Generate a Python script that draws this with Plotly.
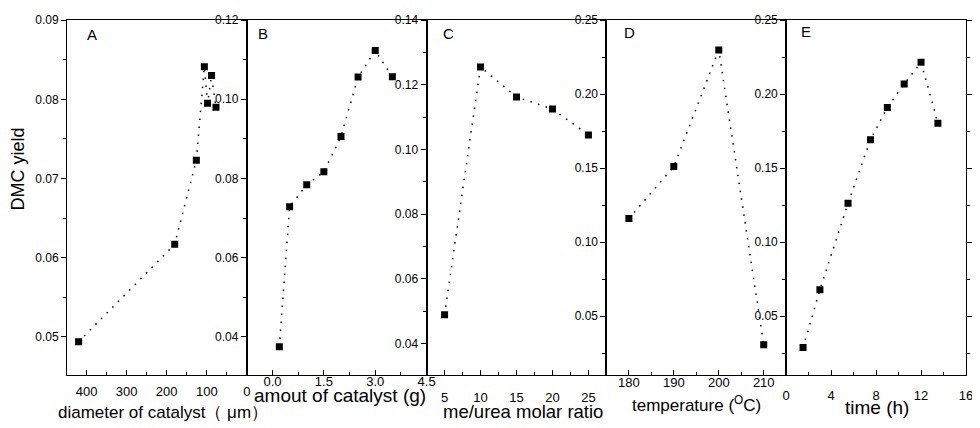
import plotly.graph_objects as go
from plotly.subplots import make_subplots

# panel A: particle size
a_diam = [420, 180, 126, 106, 98, 88, 77]
a_yield = [0.0494, 0.0617, 0.0723, 0.0841, 0.0795, 0.0830, 0.0790]
# panel B: catalyst amount
b_amount = [0.2, 0.5, 1.0, 1.5, 2.0, 2.5, 3.0, 3.5]
b_yield = [0.0375, 0.0729, 0.0784, 0.0817, 0.0906, 0.1056, 0.1123, 0.1057]
# panel C: methanol/urea ratio
c_ratio = [5, 10, 15, 20, 25]
c_yield = [0.0489, 0.1255, 0.1162, 0.1125, 0.1045]
# panel D: temperature
d_temp = [180, 190, 200, 210]
d_yield = [0.1159, 0.1511, 0.2298, 0.0308]
# panel E: time
e_time = [1.5, 3, 5.5, 7.5, 9, 10.5, 12, 13.5]
e_yield = [0.0288, 0.0679, 0.1262, 0.1692, 0.1909, 0.2068, 0.2214, 0.1803]

panel_letters = ["A", "B", "C", "D", "E"]
x_titles = ["diameter of catalyst（ μm）", "amout of catalyst (g)", "me/urea molar ratio",
            "temperature (<sup>O</sup>C)", "time (h)"]

FONT = "Arial, Liberation Sans, sans-serif"
# page body has an 8px margin, so the figure is drawn 8px in from the corner
OFF = 8
W, H = 980 - OFF, 428 - OFF
L, R, T, B = 67 - OFF, 6, 13 - OFF, 53
PW, PH = W - L - R, H - T - B

fig = make_subplots(rows=1, cols=5, horizontal_spacing=0)

series = [(a_diam, a_yield), (b_amount, b_yield), (c_ratio, c_yield),
          (d_temp, d_yield), (e_time, e_yield)]
for i, (xs, ys) in enumerate(series):
    fig.add_trace(go.Scatter(
        x=xs, y=ys, mode="lines+markers",
        line=dict(color="black", width=1.5, dash="1.5px,6.5px"),
        marker=dict(symbol="square", size=7, color="black"),
        showlegend=False), row=1, col=i + 1)

x_ranges = [[449, 0], [-0.75, 4.5], [2.5, 27.5], [175, 215], [0, 16]]
x_dticks = [100, 1.5, 5, 10, 4]
x_fmt = ["d", ".1f", "d", "d", "d"]
x_standoff = [4, -6, 10, -5, 8]
y_ranges = [[0.0452, 0.09001], [0.0304, 0.12001], [0.0303, 0.14001], [0.0103, 0.25001], [0.0103, 0.25001]]
y_dticks = [0.01, 0.02, 0.02, 0.05, 0.05]

for i in range(5):
    fig.update_xaxes(
        range=x_ranges[i], dtick=x_dticks[i], tick0=0, tickformat=x_fmt[i],
        showgrid=False, zeroline=False, showline=True, linecolor="black", linewidth=1,
        mirror=True, ticks="inside", ticklen=5, tickcolor="black",
        minor=dict(ticks="inside", ticklen=3, tickcolor="black", dtick=x_dticks[i] / 2),
        tickfont=dict(family=FONT, size=13, color="black"),
        ticklabelstandoff=x_standoff[i], ticklabeloverflow="allow",
        row=1, col=i + 1)
    fig.update_yaxes(
        range=y_ranges[i], dtick=y_dticks[i], tick0=0, tickformat=".2f",
        showgrid=False, zeroline=False, showline=True, linecolor="black", linewidth=1,
        mirror="allticks" if i == 4 else True,
        ticks="outside", ticklen=5, tickcolor="black",
        minor=dict(ticks="outside", ticklen=3, tickcolor="black", dtick=y_dticks[i] / 2),
        tickfont=dict(family=FONT, size=12, color="black"),
        ticklabeloverflow="allow",
        row=1, col=i + 1)

# positions below are read in screen pixels
def px_x(x):
    return (x - OFF - L) / PW

def px_y(y):
    return (H - B - (y - OFF)) / PH

def label(text, x, y, size, angle=0):
    return dict(text=text, x=px_x(x), y=px_y(y), xref="paper", yref="paper",
                xanchor="center", yanchor="middle", textangle=angle, showarrow=False,
                font=dict(family=FONT, size=size, color="black"))

ann = []
letter_px = [(92, 28), (265, 27), (452, 27), (635, 26), (813, 25)]
for lt, (lx, ly) in zip(panel_letters, letter_px):
    ann.append(label(lt, lx, ly, 15))

title_px = [(164, 413, 17), (342, 396, 19), (527, 412, 18.5), (702, 405, 17), (884, 408, 19)]
for t, (tx, ty, ts) in zip(x_titles, title_px):
    ann.append(label(t, tx, ty, ts))

ann.append(label("DMC yield", 18, 165, 18, angle=-90))

fig.update_layout(
    width=W, height=H,
    margin=dict(l=L, r=R, t=T, b=B),
    paper_bgcolor="white", plot_bgcolor="white",
    annotations=ann,
    font=dict(family=FONT, color="black"),
)

fig.write_html("out.html")
